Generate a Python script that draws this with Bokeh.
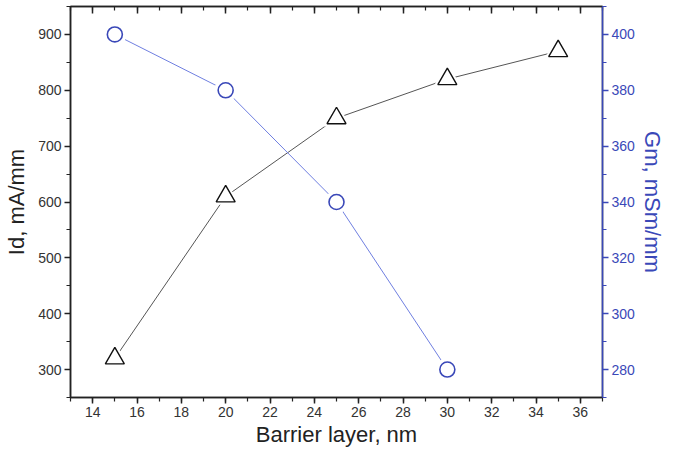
from bokeh.plotting import figure
from bokeh.models import Range1d, LinearAxis, SingleIntervalTicker, CustomJSTickFormatter
from bokeh.embed import file_html
from bokeh.resources import INLINE

barrier = [15, 20, 25, 30, 35]
id_vals = [320, 610, 750, 820, 870]
gm_x = [15, 20, 25, 30]
gm_vals = [400, 380, 340, 280]

FONT = "Liberation Sans"
BLUE = "#3a48b8"
LINE_BLUE = "#6f7fe0"
DARK = "#222222"

p = figure(width=667, height=451, output_backend="svg", toolbar_location=None,
           x_range=Range1d(13, 37), y_range=Range1d(250, 950),
           min_border_left=70, min_border_right=61, min_border_top=6, min_border_bottom=54)
p.grid.visible = False
p.outline_line_color = DARK
p.outline_line_width = 1.5
p.background_fill_color = "white"
p.border_fill_color = "white"

p.extra_y_ranges = {"gm": Range1d(270, 410)}


def style_axis(ax, color, label_color):
    ax.axis_line_color = color
    ax.axis_line_width = 1.5
    ax.major_tick_line_color = color
    ax.minor_tick_line_color = color
    ax.major_tick_line_width = 1.5
    ax.minor_tick_line_width = 1.2
    ax.major_tick_out = 6
    ax.major_tick_in = 0
    ax.minor_tick_out = 4
    ax.minor_tick_in = 0
    ax.major_label_text_font = FONT
    ax.major_label_text_font_size = "14px"
    ax.major_label_text_color = label_color
    ax.axis_label_text_font = FONT
    ax.axis_label_text_font_size = "22px"
    ax.axis_label_text_font_style = "normal"
    ax.axis_label_text_color = label_color
    ax.axis_label_standoff = 2
    ax.major_label_standoff = 3


xa = p.xaxis[0]
xa.ticker = SingleIntervalTicker(interval=2, num_minor_ticks=2)
xa.axis_label = "Barrier layer, nm"
style_axis(xa, DARK, "#333333")
xa.axis_label_text_color = DARK

ya = p.yaxis[0]
ya.ticker = SingleIntervalTicker(interval=100, num_minor_ticks=2)
ya.axis_label = "Id, mA/mm"
style_axis(ya, DARK, "#333333")
ya.axis_label_text_color = DARK
ya.axis_label_standoff = 6

ra = LinearAxis(y_range_name="gm", axis_label="Gm, mSm/mm",
                ticker=SingleIntervalTicker(interval=20, num_minor_ticks=2))
style_axis(ra, BLUE, BLUE)
p.add_layout(ra, "right")

# top axis: ticks only, pointing inward
ta = LinearAxis(ticker=SingleIntervalTicker(interval=2, num_minor_ticks=2),
                formatter=CustomJSTickFormatter(code="return '';"))
ta.axis_line_color = DARK
ta.axis_line_width = 1.5
ta.major_tick_line_color = DARK
ta.minor_tick_line_color = DARK
ta.major_tick_line_width = 1.5
ta.minor_tick_line_width = 1.2
ta.major_tick_in = 7
ta.major_tick_out = 0
ta.minor_tick_in = 4
ta.minor_tick_out = 0
ta.major_label_standoff = 0
p.add_layout(ta, "above")

# Id series
p.line(barrier, id_vals, line_color="#555555", line_width=1)
p.scatter(barrier, id_vals, marker="triangle", size=25, fill_color="white", line_color="white", line_width=2)
p.scatter(barrier, id_vals, marker="triangle", size=19, fill_color="white", line_color="#111111", line_width=1.4)

# Gm series
p.line(gm_x, gm_vals, line_color=LINE_BLUE, line_width=1, y_range_name="gm")
p.scatter(gm_x, gm_vals, marker="circle", size=21, fill_color="white", line_color="white", line_width=2, y_range_name="gm")
p.scatter(gm_x, gm_vals, marker="circle", size=15, fill_color="white", line_color=BLUE, line_width=1.6, y_range_name="gm")

open("out.html", "w").write(file_html(p, INLINE))
